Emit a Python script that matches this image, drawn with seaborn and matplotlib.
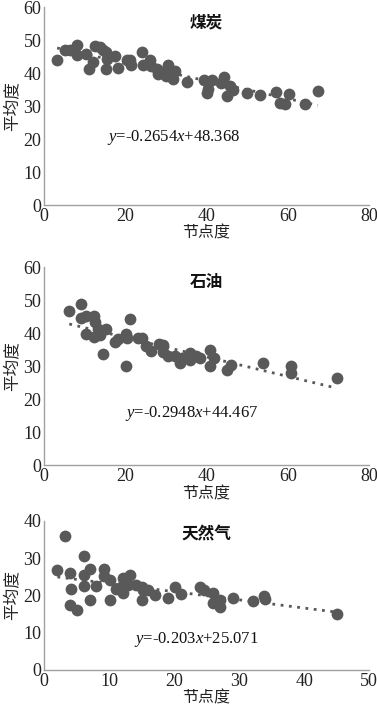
import numpy as np
import pandas as pd
import matplotlib
matplotlib.use("Agg")
import matplotlib.pyplot as plt
import seaborn as sns

# 煤炭
coal_x = [3.2, 5.1, 6.3, 8.1, 8.0, 10.3, 11.1, 12.1, 12.5, 13.7, 14.5, 15.3, 15.5, 15.2,
          17.4, 18.2, 20.3, 21.3, 21.1, 24.2, 24.4, 26.0, 26.4, 27.7, 28.1, 29.3, 30.4,
          30.1, 31.1, 31.8, 32.3, 35.2, 39.3, 40.4, 40.1, 41.4, 44.3, 43.6, 45.7, 45.1,
          46.5, 50.0, 53.1, 57.0, 58.0, 59.2, 60.2, 64.2, 67.4]
coal_y = [43.9, 47.1, 47.1, 48.4, 45.4, 45.9, 41.1, 43.3, 48.1, 47.9, 47.1, 46.4, 44.4, 41.1,
          45.1, 41.5, 43.9, 42.3, 43.9, 46.4, 42.3, 43.9, 42.0, 41.3, 39.8, 40.3, 42.3,
          39.0, 40.0, 38.3, 40.5, 37.3, 37.8, 35.3, 34.0, 38.0, 38.8, 37.0, 36.0, 33.0,
          35.0, 34.0, 33.3, 34.3, 30.9, 30.7, 33.8, 30.7, 34.6]

# 石油
oil_x = [6.2, 9.2, 9.2, 10.3, 12.3, 12.5, 10.3, 12.3, 13.3, 13.7, 15.3, 14.4, 17.4, 18.2,
         20.1, 20.3, 21.1, 20.1, 23.2, 24.2, 25.2, 26.2, 28.3, 29.3, 29.3, 30.5, 32.2,
         33.4, 34.0, 35.9, 36.0, 37.5, 38.3, 40.9, 41.9, 40.9, 45.0, 46.1, 53.9, 60.9,
         60.9, 72.0]
oil_y = [46.6, 48.8, 44.7, 45.2, 45.2, 43.3, 39.7, 39.0, 41.2, 39.5, 41.2, 33.6, 37.2, 38.2,
         39.7, 38.7, 44.2, 30.2, 38.5, 38.5, 36.1, 34.6, 36.6, 36.4, 34.2, 33.2, 33.2,
         31.1, 32.6, 33.9, 31.9, 33.2, 32.6, 34.9, 32.6, 30.1, 29.0, 30.4, 30.9, 30.1,
         28.0, 26.5]

# 天然气
gas_x = [2.05, 3.2, 4.05, 4.1, 4.05, 5.1, 6.1, 6.1, 6.1, 7.1, 7.0, 8.05, 9.2, 9.2, 10.1,
         10.1, 11.0, 12.1, 12.2, 12.2, 13.2, 12.9, 14.2, 15.0, 15.0, 15.2, 16.0, 17.0,
         19.1, 20.1, 21.1, 24.0, 24.6, 26.0, 26.0, 27.0, 27.0, 29.1, 32.2, 33.9, 34.0, 45.1]
gas_y = [26.8, 35.9, 26.1, 21.6, 17.4, 16.1, 30.5, 25.4, 22.5, 27.0, 18.8, 22.5, 27.0, 25.2,
         24.1, 18.8, 21.6, 24.6, 22.8, 20.7, 25.4, 22.8, 22.8, 22.3, 18.8, 21.4, 21.4, 20.1,
         19.4, 22.3, 20.5, 22.3, 21.4, 20.7, 18.0, 18.8, 17.0, 19.2, 18.6, 19.8, 18.9, 15.0]

titles = ["煤炭", "石油", "天然气"]
equations = ["$y$=-0.2654$x$+48.368", "$y$=-0.2948$x$+44.467", "$y$=-0.203$x$+25.071"]
eq_pos = [(15.5, 20.6), (20.0, 15.7), (13.8, 8.0)]
x_max = [80, 80, 50]
y_max = [60, 60, 40]

sns.set_style("white")
plt.rcParams['font.family'] = ['Liberation Serif', 'Noto Sans CJK SC']
plt.rcParams['mathtext.fontset'] = 'custom'
plt.rcParams['mathtext.rm'] = 'Liberation Serif'
plt.rcParams['mathtext.it'] = 'Liberation Serif:italic'

fig = plt.figure(figsize=(3.77, 7.05), dpi=100)
boxes = [[0.117, 0.709, 0.862, 0.281],
         [0.117, 0.340, 0.862, 0.281],
         [0.117, 0.050, 0.862, 0.211]]

data = [(coal_x, coal_y), (oil_x, oil_y), (gas_x, gas_y)]
pt_color = "#595959"
cjk = ['Noto Sans CJK SC']

for i, (xs, ys) in enumerate(data):
    ax = fig.add_axes(boxes[i])
    df = pd.DataFrame({"x": xs, "y": ys})
    sns.regplot(data=df, x="x", y="y", ax=ax, ci=None, truncate=True,
                scatter_kws=dict(s=72, color=pt_color, alpha=1, linewidths=0),
                line_kws=dict(color=pt_color, linestyle=(0, (1, 2)), linewidth=2))
    ax.set_xlim(0, x_max[i])
    ax.set_ylim(0, y_max[i])
    ax.set_xticks(np.arange(0, x_max[i] + 1, 20 if x_max[i] == 80 else 10))
    ax.set_yticks(np.arange(0, y_max[i] + 1, 10))
    sns.despine(ax=ax)
    for s in ["left", "bottom"]:
        ax.spines[s].set_color("#a0a0a0")
        ax.spines[s].set_linewidth(1)
    ax.tick_params(length=0, labelsize=13, colors="#222222", pad=2,
                   labelfontfamily='Liberation Serif')
    ax.set_xlabel("节点度", fontsize=11.5, family=cjk, labelpad=0, color="#222222")
    ax.set_ylabel("平均度", fontsize=12, family=cjk, labelpad=2, color="#222222")
    ax.text(0.5, 0.97, titles[i], transform=ax.transAxes, ha="center", va="top",
            fontsize=12, fontweight="bold", family=cjk, color="#111111")
    ax.text(eq_pos[i][0], eq_pos[i][1], equations[i], ha="left", va="center",
            fontsize=12, color="#111111")

fig.savefig("out.png", dpi=100)
